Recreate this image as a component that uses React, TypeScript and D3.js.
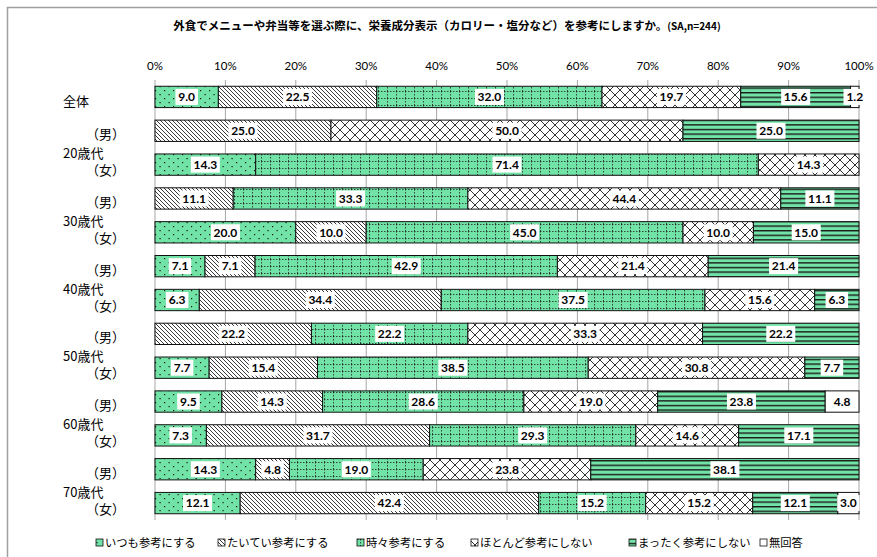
import React from 'react';
import * as d3 from 'd3';

// chart data
const categories = [
  '全体',
  '20歳代（男）', '20歳代（女）',
  '30歳代（男）', '30歳代（女）',
  '40歳代（男）', '40歳代（女）',
  '50歳代（男）', '50歳代（女）',
  '60歳代（男）', '60歳代（女）',
  '70歳代（男）', '70歳代（女）',
];
const ageGroups = ['20歳代', '30歳代', '40歳代', '50歳代', '60歳代', '70歳代'];
const seriesNames = ['いつも参考にする', 'たいてい参考にする', '時々参考にする', 'ほとんど参考にしない', 'まったく参考にしない', '無回答'];

const always = [9.0, 0, 14.3, 0, 20.0, 7.1, 6.3, 0, 7.7, 9.5, 7.3, 14.3, 12.1];
const usually = [22.5, 25.0, 0, 11.1, 10.0, 7.1, 34.4, 22.2, 15.4, 14.3, 31.7, 4.8, 42.4];
const sometimes = [32.0, 0, 71.4, 33.3, 45.0, 42.9, 37.5, 22.2, 38.5, 28.6, 29.3, 19.0, 15.2];
const rarely = [19.7, 50.0, 14.3, 44.4, 10.0, 21.4, 15.6, 33.3, 30.8, 19.0, 14.6, 23.8, 15.2];
const never = [15.6, 25.0, 0, 11.1, 15.0, 21.4, 6.3, 22.2, 7.7, 23.8, 17.1, 38.1, 12.1];
const noAnswer = [1.2, 0, 0, 0, 0, 0, 0, 0, 0, 4.8, 0, 0, 3.0];

const tickValues = [0, 0.1, 0.2, 0.3, 0.4, 0.5, 0.6, 0.7, 0.8, 0.9, 1];

const title = '外食でメニューや弁当等を選ぶ際に、栄養成分表示（カロリー・塩分など）を参考にしますか。';
const subTitle = '(SA,n=244)';

// layout
const W = 877;
const H = 557;
const PLOT = { left: 155, right: 859, top: 80, bottom: 520 };
const GREEN = '#72E3A6';
const patternIds = ['pDots', 'pDiag', 'pGrid', 'pCross', 'pHoriz', 'pNone'];
const legendX = [96, 218, 357, 471, 629, 760];

const JP = '"Noto Sans CJK JP", "Noto Sans", sans-serif';
const NUM = 'Lato, "Open Sans", sans-serif';

export default function App() {
  const table = categories.map((c, i) => ({
    cat: c,
    s0: always[i], s1: usually[i], s2: sometimes[i], s3: rarely[i], s4: never[i], s5: noAnswer[i],
  }));
  const keys = ['s0', 's1', 's2', 's3', 's4', 's5'];
  const stacked = d3.stack<any>().keys(keys).offset(d3.stackOffsetExpand)(table);
  const rawSeries = [always, usually, sometimes, rarely, never, noAnswer];

  const x = d3.scaleLinear().domain([0, 1]).range([PLOT.left, PLOT.right]);
  const y = d3.scaleBand<string>()
    .domain(categories)
    .range([PLOT.top, PLOT.bottom])
    .paddingInner(0.37)
    .paddingOuter(0.185);
  const bw = y.bandwidth();

  return (
    <svg width={W} height={H} style={{ position: 'absolute', left: 0, top: 0, background: '#fff' }}>
      <defs>
        <pattern id="pDots" patternUnits="userSpaceOnUse" width="9" height="8">
          <rect width="9" height="8" fill={GREEN} />
          <rect x="2" y="2" width="1.2" height="1.2" fill="#111" />
          <rect x="6.5" y="6" width="1.2" height="1.2" fill="#111" />
        </pattern>
        <pattern id="pDiag" patternUnits="userSpaceOnUse" width="4" height="4">
          <rect width="4" height="4" fill="#fff" />
          <path d="M-1,-1 L5,5 M-1,3 L1,5 M3,-1 L5,1" stroke="#222" strokeWidth="0.9" />
        </pattern>
        <pattern id="pGrid" patternUnits="userSpaceOnUse" width="9" height="7">
          <rect width="9" height="7" fill={GREEN} />
          <line x1="0.5" y1="0" x2="0.5" y2="7" stroke="#222" strokeWidth="0.8" strokeDasharray="1.5,1.5" />
          <line x1="0" y1="0.5" x2="9" y2="0.5" stroke="#222" strokeWidth="0.8" strokeDasharray="1.5,1.5" />
        </pattern>
        <pattern id="pCross" patternUnits="userSpaceOnUse" width="10" height="10">
          <rect width="10" height="10" fill="#fff" />
          <path d="M0,0 L10,10 M10,0 L0,10" stroke="#333" strokeWidth="1" />
        </pattern>
        <pattern id="pHoriz" patternUnits="userSpaceOnUse" width="6" height="4.6">
          <rect width="6" height="4.6" fill={GREEN} />
          <rect x="0" y="0" width="6" height="1.4" fill="#1a1a1a" />
        </pattern>
        <pattern id="pNone" patternUnits="userSpaceOnUse" width="4" height="4">
          <rect width="4" height="4" fill="#fff" />
        </pattern>
      </defs>

      {/* outer frame */}
      <rect x={7.5} y={7.5} width={W + 10} height={H + 10} fill="none" stroke="#a0a0a0" strokeWidth={1.5} />

      {/* title */}
      <text x={447} y={30} textAnchor="middle" fontFamily={JP} fontWeight="bold" fill="#000">
        <tspan fontSize="11.5">{title}</tspan>
        <tspan fontSize="10">{subTitle}</tspan>
      </text>

      {/* gridlines + top tick labels */}
      {tickValues.map((t) => (
        <g key={t}>
          <line x1={x(t)} x2={x(t)} y1={PLOT.top} y2={PLOT.bottom} stroke="#a6a6a6" strokeWidth={1} />
          <text x={x(t)} y={70} textAnchor="middle" fontFamily={NUM} fontSize="11.5" fill="#000">
            {d3.format('.0%')(t)}
          </text>
        </g>
      ))}

      {/* bars */}
      {stacked.map((layer, si) => (
        <g key={layer.key}>
          {layer.map((d, ri) => {
            if (rawSeries[si][ri] <= 0) return null;
            return (
              <rect
                key={ri}
                x={x(d[0])}
                y={y(categories[ri])}
                width={x(d[1]) - x(d[0])}
                height={bw}
                fill={`url(#${patternIds[si]})`}
                stroke="#111"
                strokeWidth={1}
              />
            );
          })}
        </g>
      ))}

      {/* value labels */}
      {stacked.map((layer, si) => (
        <g key={`l${layer.key}`}>
          {layer.map((d, ri) => {
            const v = rawSeries[si][ri];
            if (v <= 0) return null;
            const label = v.toFixed(1);
            const cx = (x(d[0]) + x(d[1])) / 2;
            const cy = (y(categories[ri]) as number) + bw / 2;
            const w = label.length * 6.5 + 3;
            return (
              <g key={ri}>
                <rect x={cx - w / 2} y={cy - 8} width={w} height={16} fill="#fff" />
                <text x={cx} y={cy} dy="0.36em" textAnchor="middle" fontFamily={NUM} fontWeight="bold" fontSize="12" fill="#000">
                  {label}
                </text>
              </g>
            );
          })}
        </g>
      ))}

      {/* row labels */}
      {categories.map((c, i) => {
        const cy = (y(c) as number) + bw / 2;
        if (i === 0) {
          return (
            <text key={c} x={63} y={cy + 5} dy="0.35em" fontFamily={JP} fontSize="13" fill="#000">{c}</text>
          );
        }
        const male = c.endsWith('（男）');
        return (
          <text key={c} x={125} y={cy + (male ? 4 : 6)} dy="0.35em" textAnchor="end" fontFamily={JP} fontSize="13" fill="#000">
            {male ? '（男）' : '（女）'}
          </text>
        );
      })}
      {ageGroups.map((a) => {
        const y1 = (y(`${a}（男）`) as number) + bw / 2;
        const y2 = (y(`${a}（女）`) as number) + bw / 2;
        return (
          <text key={a} x={63} y={(y1 + y2) / 2 + 6} dy="0.35em" fontFamily={JP} fontSize="13" fill="#000">{a}</text>
        );
      })}

      {/* legend */}
      {seriesNames.map((n, i) => (
        <g key={n}>
          <rect x={legendX[i]} y={539} width={7} height={7} fill={`url(#${patternIds[i]})`} stroke="#111" strokeWidth={0.8} />
          <text x={legendX[i] + 9} y={543} dy="0.35em" fontFamily={JP} fontSize="11.3" fill="#000">{n}</text>
        </g>
      ))}
    </svg>
  );
}
